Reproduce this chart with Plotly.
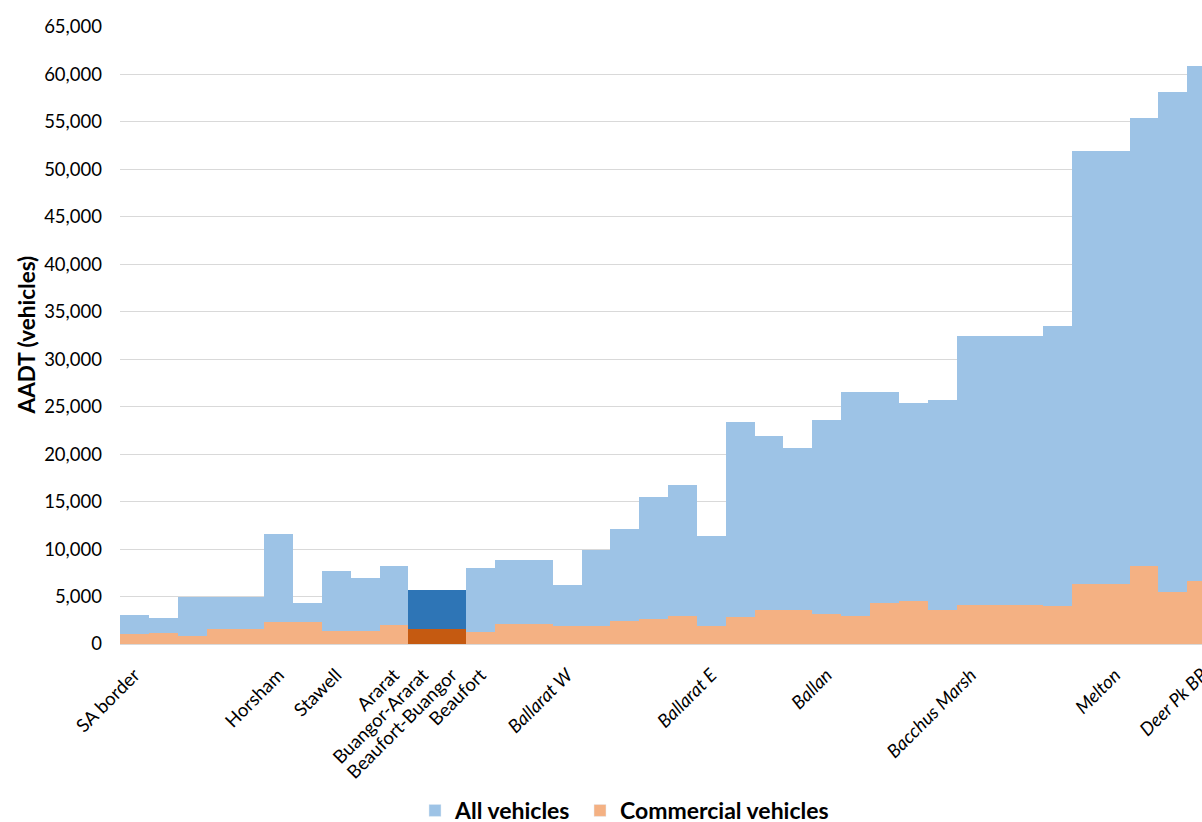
import plotly.graph_objects as go

# ---- data ----
segment_index = list(range(38))
all_vehicles = [3100, 2700, 4900, 4900, 4900, 11550, 4350, 7700, 6950, 8250,
                5700, 5700, 8050, 8800, 8800, 6200, 9900, 12100, 15450, 16700,
                11350, 23400, 21900, 20600, 23550, 26500, 26500, 25350, 25750, 32400,
                32400, 32400, 33550, 51950, 51950, 55450, 58200, 60850]
commercial = [1050, 1200, 850, 1600, 1600, 2350, 2350, 1400, 1400, 1950,
              1600, 1600, 1300, 2100, 2100, 1900, 1900, 2450, 2650, 3000,
              1900, 2800, 3550, 3550, 3200, 3000, 4350, 4500, 3600, 4100,
              4100, 4100, 4000, 6350, 6350, 8200, 5500, 6600]
highlight = [10, 11]  # Buangor-Ararat, Beaufort-Buangor segments

label_positions = [0, 5, 7, 9, 10, 11, 12, 15, 20, 24, 29, 34, 37]
label_names = ["SA border", "Horsham", "Stawell", "Ararat", "Buangor-Ararat",
               "Beaufort-Buangor", "Beaufort", "<i>Ballarat W</i>", "<i>Ballarat E</i>",
               "<i>Ballan</i>", "<i>Bacchus Marsh</i>", "<i>Melton</i>", "<i>Deer Pk BP</i>"]
y_ticks = list(range(0, 65001, 5000))

BLUE, ORANGE = "#9DC3E6", "#F4B183"
DBLUE, DORANGE = "#2E75B6", "#C55A11"

blue_colors = [DBLUE if i in highlight else BLUE for i in segment_index]
orange_colors = [DORANGE if i in highlight else ORANGE for i in segment_index]

FONT = "Lato, Carlito, Calibri, sans-serif"

fig = go.Figure()
fig.add_trace(go.Bar(x=segment_index, y=all_vehicles, name="All vehicles", showlegend=False,
                     marker=dict(color=blue_colors, line=dict(width=0)), width=1.0))
fig.add_trace(go.Bar(x=segment_index, y=commercial, name="Commercial vehicles", showlegend=False,
                     marker=dict(color=orange_colors, line=dict(width=0)), width=1.0))
# legend swatches in the base colours (one legend box each, for exact placement)
fig.add_trace(go.Bar(x=[None], y=[None], name="All vehicles", marker_color=BLUE, legend="legend"))
fig.add_trace(go.Bar(x=[None], y=[None], name="Commercial vehicles", marker_color=ORANGE,
                     legend="legend2"))

L, R, T, B = 120, 0, 27, 178
PW = 1202 - L - R
PH = 822 - T - B
leg_common = dict(orientation="h", xanchor="left", y=-(789 - (822 - B)) / PH, yanchor="top",
                  font=dict(family=FONT, size=23, color="#000000", weight="bold"),
                  bgcolor="rgba(0,0,0,0)")
fig.update_layout(
    width=1202, height=822,
    margin=dict(l=L, r=R, t=T, b=B, pad=0, autoexpand=False),
    barmode="overlay", bargap=0,
    plot_bgcolor="white", paper_bgcolor="white",
    font=dict(family=FONT, size=18, color="#000000"),
    showlegend=True,
    legend=dict(x=(415 - L) / PW, **leg_common),
    legend2=dict(x=(580 - L) / PW, **leg_common),
)
fig.update_xaxes(
    range=[-0.5, 37.01], tickmode="array", tickvals=label_positions, ticktext=label_names,
    tickangle=-45, showgrid=False, zeroline=False, showline=True, linecolor="#D9D9D9",
    linewidth=1, ticks="", tickfont=dict(family=FONT, size=18.5, color="#000000"),
    ticklabelstandoff=12, ticklabeloverflow="allow", automargin=False, fixedrange=True,
)
fig.update_yaxes(
    range=[0, 65000], tickmode="array", tickvals=y_ticks,
    ticktext=[f"{v:,}" for v in y_ticks], showgrid=True, gridcolor="#D9D9D9", gridwidth=1,
    zeroline=False, showline=False, ticks="", ticklabelstandoff=17, automargin=False,
    tickfont=dict(family=FONT, size=18.5, color="#000000"), fixedrange=True,
)
fig.add_annotation(text="<b>AADT (vehicles)</b>", textangle=-90, xref="paper", yref="paper",
                   x=(26 - L) / PW, y=0.5, xanchor="center", yanchor="middle",
                   showarrow=False, font=dict(family=FONT, size=22.5, color="#000000"))

fig.write_html("out.html")
